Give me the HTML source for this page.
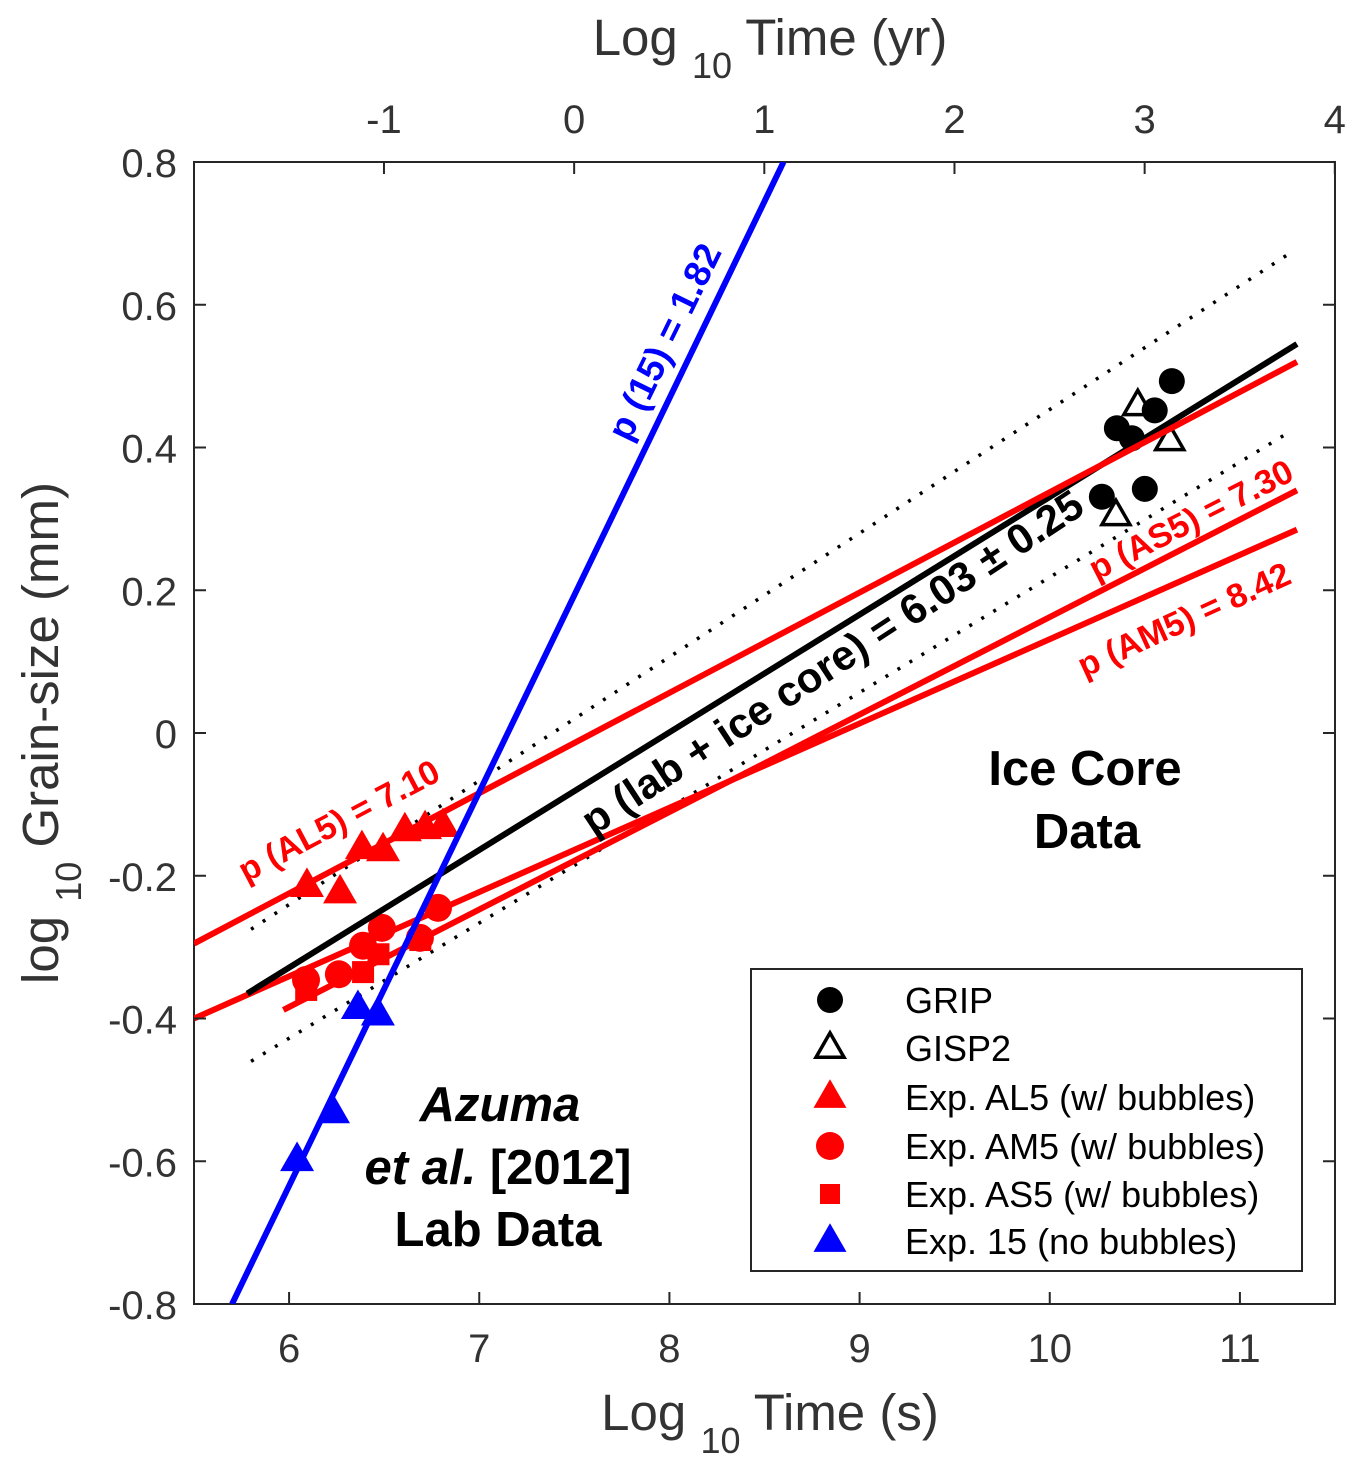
<!DOCTYPE html>
<html><head><meta charset="utf-8">
<style>
html,body{margin:0;padding:0;background:#fff;}
svg{display:block;font-family:"Liberation Sans",Arial,sans-serif;}
</style></head>
<body>
<svg id="chart" width="1363" height="1473" viewBox="0 0 1363 1473" xmlns="http://www.w3.org/2000/svg">
<rect x="194" y="162" width="1141" height="1142" fill="#fff" stroke="#262626" stroke-width="2"/>
<g id="marks"></g>
<g id="axes"></g>
<g font-weight="bold">
<text x="667" y="343" fill="#0000ff" font-size="37" text-anchor="middle" dominant-baseline="middle" transform="rotate(-64 667 343)">p (15) = 1.82</text>
<text x="834" y="665" fill="#000" font-size="42" text-anchor="middle" dominant-baseline="middle" transform="rotate(-33.3 834 665)">p (lab + ice core) = 6.03 ± 0.25</text>
<text x="340" y="823" fill="#ff0000" font-size="34" text-anchor="middle" dominant-baseline="middle" transform="rotate(-27.8 340 823)">p (AL5) = 7.10</text>
<text x="1192" y="522" fill="#ff0000" font-size="34" text-anchor="middle" dominant-baseline="middle" transform="rotate(-27 1192 522)">p (AS5) = 7.30</text>
<text x="1185" y="622" fill="#ff0000" font-size="34" text-anchor="middle" dominant-baseline="middle" transform="rotate(-24.5 1185 622)">p (AM5) = 8.42</text>
<text x="1085" y="785" font-size="49" text-anchor="middle">Ice Core</text>
<text x="1087" y="848" font-size="49" text-anchor="middle">Data</text>
<text x="500" y="1121" font-size="49" text-anchor="middle" font-style="italic">Azuma</text>
<text x="498" y="1184" font-size="49" text-anchor="middle"><tspan font-style="italic">et al.</tspan> [2012]</text>
<text x="498" y="1246" font-size="49" text-anchor="middle">Lab Data</text>
</g>
<g id="legend"></g>
</svg>
<script>
const xTicks=[6,7,8,9,10,11];
const yTicks=[-0.8,-0.6,-0.4,-0.2,0,0.2,0.4,0.6,0.8];
const yTickLabels=["-0.8","-0.6","-0.4","-0.2","0","0.2","0.4","0.6","0.8"];
const topTicks=[-1,0,1,2,3,4];
const gripX=[10.353,10.432,10.552,10.642,10.274,10.500];
const gripY=[0.427,0.413,0.452,0.493,0.331,0.342];
const gisp2X=[10.463,10.631,10.348];
const gisp2Y=[0.459,0.410,0.305];
const al5X=[6.094,6.268,6.383,6.494,6.609,6.715,6.809];
const al5Y=[-0.214,-0.223,-0.161,-0.164,-0.136,-0.133,-0.130];
const am5X=[6.089,6.262,6.389,6.488,6.688,6.783];
const am5Y=[-0.346,-0.338,-0.298,-0.273,-0.287,-0.245];
const as5X=[6.09,6.389,6.47,6.69];
const as5Y=[-0.36,-0.335,-0.31,-0.29];
const e15X=[6.042,6.231,6.362,6.467];
const e15Y=[-0.598,-0.531,-0.385,-0.394];
// fit lines [x0,y0,x1,y1]
const fitBlue=[5.7,-0.8,8.6,0.8];
const fitBlack=[5.78,-0.365,11.3,0.545];
const fitAL5=[5.5,-0.295,11.3,0.52];
const fitAS5=[5.97,-0.388,11.3,0.340];
const fitAM5=[5.5,-0.40,11.3,0.285];
const dotUpper=[5.8,-0.275,11.25,0.67];
const dotLower=[5.8,-0.46,11.25,0.42];

const NS="http://www.w3.org/2000/svg";
const X=v=>194+(v-5.5)*190.1667;
const Y=v=>733-v*713.75;
const secPerYrLog=7.499;
function el(tag,attrs,parent){const e=document.createElementNS(NS,tag);for(const k in attrs)e.setAttribute(k,attrs[k]);parent.appendChild(e);return e;}
const marks=document.getElementById('marks');
const axes=document.getElementById('axes');
const legend=document.getElementById('legend');

function line(a,color,w,dash,name){
  const l=el('line',{x1:X(a[0]),y1:Y(a[1]),x2:X(a[2]),y2:Y(a[3]),stroke:color,'stroke-width':w},marks);
  if(dash){l.setAttribute('stroke-dasharray',dash);l.setAttribute('stroke-linecap','butt');}
  
  
}
function tri(cx,cy,s,fill,stroke,parent,name){
  const h=s*0.87;
  const p=el('polygon',{points:`${cx},${cy-h*0.62} ${cx-s/2},${cy+h*0.38} ${cx+s/2},${cy+h*0.38}`,fill:fill,stroke:stroke||'none','stroke-width':stroke?3.5:0},parent);
  
  
}
function circ(cx,cy,r,fill,parent,name){
  const c=el('circle',{cx:cx,cy:cy,r:r,fill:fill},parent);
  
  
}
function sq(cx,cy,s,fill,parent,name){
  const r=el('rect',{x:cx-s/2,y:cy-s/2,width:s,height:s,fill:fill},parent);
  
  
}

const defs=el('defs',{},document.getElementById('chart'));
const cp=el('clipPath',{id:'clip'},defs);
el('rect',{x:194,y:162,width:1141,height:1142},cp);
marks.setAttribute('clip-path','url(#clip)');

line(dotUpper,'#000',3.5,'3 11','dotted-upper-bound');
line(dotLower,'#000',3.5,'3 11','dotted-lower-bound');
as5X.forEach((x,i)=>sq(X(x),Y(as5Y[i]),22,'#ff0000',marks,'as5-point'));
am5X.forEach((x,i)=>circ(X(x),Y(am5Y[i]),14,'#ff0000',marks,'am5-point'));
al5X.forEach((x,i)=>tri(X(x),Y(al5Y[i]),34,'#ff0000',null,marks,'al5-point'));
line(fitAS5,'#ff0000',6,null,'fit-as5');
line(fitAM5,'#ff0000',6,null,'fit-am5');
e15X.forEach((x,i)=>tri(X(x),Y(e15Y[i]),34,'#0000ff',null,marks,'exp15-point'));
gripX.forEach((x,i)=>circ(X(x),Y(gripY[i]),13,'#000',marks,'grip-point'));
gisp2X.forEach((x,i)=>tri(X(x),Y(gisp2Y[i]),28,'none','#000',marks,'gisp2-point'));
line(fitBlack,'#000',6,null,'fit-lab-ice-core');
line(fitAL5,'#ff0000',6,null,'fit-al5');
line(fitBlue,'#0000ff',6,null,'fit-exp15');

xTicks.forEach(v=>{
  el('line',{x1:X(v),y1:1304,x2:X(v),y2:1292,stroke:'#262626','stroke-width':2},axes);
  const t=el('text',{x:X(v),y:1362,'font-size':40,'text-anchor':'middle',fill:'#333'},axes);
  t.textContent=v;
  
  
});
yTicks.forEach((v,i)=>{
  el('line',{x1:194,y1:Y(v),x2:206,y2:Y(v),stroke:'#262626','stroke-width':2},axes);
  el('line',{x1:1335,y1:Y(v),x2:1323,y2:Y(v),stroke:'#262626','stroke-width':2},axes);
  const t=el('text',{x:177,y:Y(v)+15,'font-size':40,'text-anchor':'end',fill:'#333'},axes);
  t.textContent=yTickLabels[i];
  
  
});
topTicks.forEach(v=>{
  const px=X(v+secPerYrLog);
  el('line',{x1:px,y1:162,x2:px,y2:174,stroke:'#262626','stroke-width':2},axes);
  const t=el('text',{x:px,y:133,'font-size':40,'text-anchor':'middle',fill:'#333'},axes);
  t.textContent=v;
  
  
});
function title(x,y,a,b,name,rot){
  const t=el('text',{x:x,y:y,'font-size':51,'text-anchor':'middle',fill:'#333'},axes);
  t.innerHTML=`${a} <tspan font-size="36" dy="23">10</tspan><tspan dy="-23"> ${b}</tspan>`;
  if(rot)t.setAttribute('transform',`rotate(-90 ${x} ${y})`);
  
  
}
title(770,55,'Log','Time (yr)','top-axis-title');
title(770,1430,'Log','Time (s)','x-axis-title');
title(58,733,'log','Grain-size (mm)','y-axis-title',true);

el('rect',{x:751,y:969,width:551,height:302,fill:'#fff',stroke:'#262626','stroke-width':2},legend);
const legLabels=["GRIP","GISP2","Exp. AL5 (w/ bubbles)","Exp. AM5 (w/ bubbles)","Exp. AS5 (w/ bubbles)","Exp. 15 (no bubbles)"];
const ly=[1000,1048,1097,1146,1194,1241];
legLabels.forEach((s,i)=>{
  const y=ly[i],x=830;
  if(i===0)circ(x,y,13,'#000',legend,'legend-grip-marker');
  if(i===1)tri(x,y,28,'none','#000',legend,'legend-gisp2-marker');
  if(i===2)tri(x,y,33,'#ff0000',null,legend,'legend-al5-marker');
  if(i===3)circ(x,y,14,'#ff0000',legend,'legend-am5-marker');
  if(i===4)sq(x,y,20,'#ff0000',legend,'legend-as5-marker');
  if(i===5)tri(x,y,33,'#0000ff',null,legend,'legend-exp15-marker');
  const t=el('text',{x:905,y:y+13,'font-size':36,fill:'#000'},legend);
  t.textContent=s;
  
  
});
</script>
</body></html>
